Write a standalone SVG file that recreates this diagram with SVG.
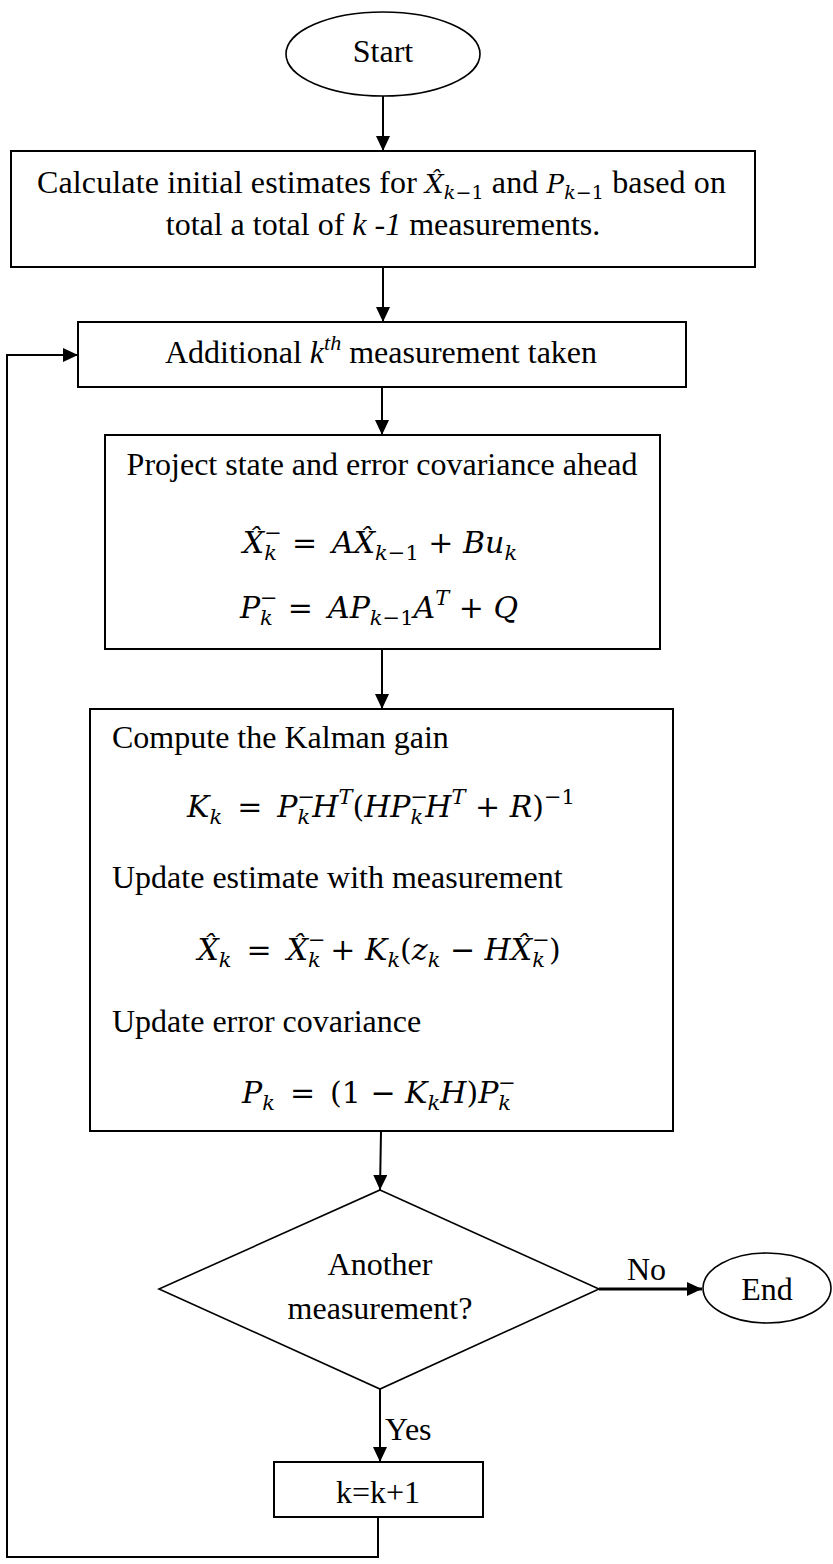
<svg xmlns="http://www.w3.org/2000/svg" width="833" height="1564" viewBox="0 0 833 1564">
<defs>
<marker id="ah" viewBox="0 0 15 14" refX="15" refY="7" markerWidth="15" markerHeight="14" markerUnits="userSpaceOnUse" orient="auto">
<path d="M0,0 L15,7 L0,14 z" fill="#000"/>
</marker>
<style>
.box{fill:#fff;stroke:#000;stroke-width:2}
.thin{fill:#fff;stroke:#000;stroke-width:1.6}
.t{font-family:"Liberation Serif","Times New Roman",serif;font-size:32px;fill:#000}
.m{font-family:"DejaVu Serif","Liberation Serif",serif;font-size:30px;font-style:italic;fill:#000}
.mi{font-family:"DejaVu Serif","Liberation Serif",serif;font-size:26px;font-style:italic}
.up{font-style:normal}
.s{font-size:21px}
.s2{font-size:19px}
.ts{font-size:22px}
.it{font-style:italic}
.c{text-anchor:middle}
.ln{fill:none;stroke:#000;stroke-width:2}
</style>
</defs>
<rect width="833" height="1564" fill="#fff"/>

<g id="connectors">
<line class="ln" x1="383" y1="96" x2="383" y2="151" marker-end="url(#ah)"/>
<line class="ln" x1="383" y1="267" x2="383" y2="322" marker-end="url(#ah)"/>
<line class="ln" x1="382" y1="387" x2="382" y2="435" marker-end="url(#ah)"/>
<line class="ln" x1="382" y1="649" x2="382" y2="709" marker-end="url(#ah)"/>
<line class="ln" x1="381" y1="1131" x2="380" y2="1190" marker-end="url(#ah)"/>
<line class="ln" x1="599" y1="1289" x2="702" y2="1289" style="stroke-width:2.8" marker-end="url(#ah)"/>
<line class="ln" x1="380" y1="1389" x2="380" y2="1462" marker-end="url(#ah)"/>
<polyline class="ln" points="378,1517 378,1557 7,1557 7,355 78,355" marker-end="url(#ah)"/>
<text class="t" x="627" y="1280">No</text>
<text class="t" x="385" y="1440">Yes</text>
</g>

<g id="start">
<ellipse class="thin" cx="383" cy="54" rx="97" ry="42"/>
<text class="t c" x="383" y="62">Start</text>
</g>

<g id="init">
<rect class="box" x="11" y="151" width="744" height="116"/>
<text class="t" x="37" y="193" textLength="689" lengthAdjust="spacing">Calculate initial estimates for <tspan class="mi">X̂</tspan><tspan class="mi s2" dy="6">k</tspan><tspan class="mi s2 up">−1</tspan><tspan dy="-6"> and </tspan><tspan class="mi">P</tspan><tspan class="mi s2" dy="6">k</tspan><tspan class="mi s2 up">−1</tspan><tspan dy="-6"> based on</tspan></text>
<text class="t c" x="383" y="235">total a total of <tspan class="it">k -1</tspan> measurements.</text>
</g>

<g id="measure">
<rect class="box" x="78" y="322" width="608" height="65"/>
<text class="t c" x="381" y="363">Additional <tspan class="it">k</tspan><tspan class="ts it" dy="-13">th</tspan><tspan dy="13"> measurement taken</tspan></text>
</g>

<g id="project">
<rect class="box" x="105" y="435" width="555" height="214"/>
<text class="t c" x="382" y="475">Project state and error covariance ahead</text>
<text class="m c" x="380" y="553">X̂<tspan class="s up" dy="-13">−</tspan><tspan class="s" dx="-17.6" dy="20">k</tspan><tspan class="up" dy="-7">&#8194;=&#8194;</tspan>AX̂<tspan class="s" dy="7">k</tspan><tspan class="s up">−1</tspan><tspan class="up" dy="-7"> + </tspan> Bu<tspan class="s" dy="7">k</tspan></text>
<text class="m c" x="379" y="618">P<tspan class="s up" dy="-13">−</tspan><tspan class="s" dx="-17.6" dy="20">k</tspan><tspan class="up" dy="-7">&#8194;=&#8194;</tspan>AP<tspan class="s" dy="7">k</tspan><tspan class="s up">−1</tspan><tspan dy="-7">A</tspan><tspan class="s" dy="-13">T</tspan><tspan class="up" dy="13"> + </tspan> Q</text>
</g>

<g id="update">
<rect class="box" x="90" y="709" width="583" height="422"/>
<text class="t" x="112" y="748">Compute the Kalman gain</text>
<text class="m c" x="381" y="817">K<tspan class="s" dy="7">k</tspan><tspan class="up" dy="-7">&#8194;=&#8194;</tspan>P<tspan class="s up" dy="-13">−</tspan><tspan class="s" dx="-17.6" dy="20">k</tspan><tspan dy="-7" dx="2">H</tspan><tspan class="s" dy="-13">T</tspan><tspan class="up" dy="13">(</tspan>HP<tspan class="s up" dy="-13">−</tspan><tspan class="s" dx="-17.6" dy="20">k</tspan><tspan dy="-7" dx="2">H</tspan><tspan class="s" dy="-13">T</tspan><tspan class="up" dy="13"> + </tspan> R<tspan class="up">)</tspan><tspan class="s up" dy="-13">−1</tspan></text>
<text class="t" x="112" y="888">Update estimate with measurement</text>
<text class="m c" x="379" y="960">X̂<tspan class="s" dy="7">k</tspan><tspan class="up" dy="-7">&#8194;=&#8194;</tspan>X̂<tspan class="s up" dy="-13">−</tspan><tspan class="s" dx="-17.6" dy="20">k</tspan><tspan class="up" dy="-7"> + </tspan> K<tspan class="s" dy="7">k</tspan><tspan class="up" dy="-7">(</tspan>z<tspan class="s" dy="7">k</tspan><tspan class="up" dy="-7"> − </tspan> HX̂<tspan class="s up" dy="-13">−</tspan><tspan class="s" dx="-17.6" dy="20">k</tspan><tspan class="up" dy="-7" dx="4">)</tspan></text>
<text class="t" x="112" y="1032">Update error covariance</text>
<text class="m c" x="379" y="1103">P<tspan class="s" dy="7">k</tspan><tspan class="up" dy="-7">&#8194;=&#8194;(1 − </tspan> K<tspan class="s" dy="7">k</tspan><tspan dy="-7">H<tspan class="up">)</tspan>P</tspan><tspan class="s up" dy="-13">−</tspan><tspan class="s" dx="-17.6" dy="20">k</tspan></text>
</g>

<g id="decision">
<polygon class="thin" points="380,1190 599,1289 380,1389 159,1289"/>
<text class="t c" x="380" y="1275">Another</text>
<text class="t c" x="380" y="1319">measurement?</text>
</g>

<g id="end">
<ellipse class="thin" cx="767" cy="1288" rx="64" ry="35"/>
<text class="t c" x="767" y="1300">End</text>
</g>

<g id="increment">
<rect class="box" x="274" y="1462" width="209" height="55"/>
<text class="t c" x="378" y="1503">k=k+1</text>
</g>
</svg>
